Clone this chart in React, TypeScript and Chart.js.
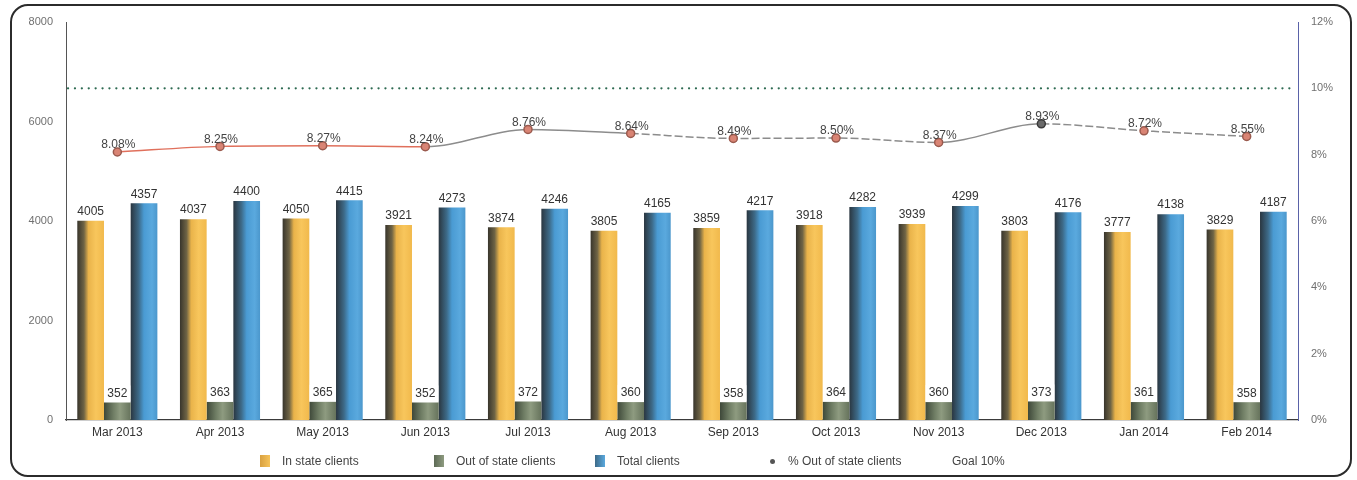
import React, { useEffect, useRef } from "react";
import { Chart, registerables } from "chart.js";

Chart.register(...registerables);

const months = ["Mar 2013", "Apr 2013", "May 2013", "Jun 2013", "Jul 2013", "Aug 2013", "Sep 2013", "Oct 2013", "Nov 2013", "Dec 2013", "Jan 2014", "Feb 2014"];
const inState = [4005, 4037, 4050, 3921, 3874, 3805, 3859, 3918, 3939, 3803, 3777, 3829];
const outState = [352, 363, 365, 352, 372, 360, 358, 364, 360, 373, 361, 358];
const totalClients = [4357, 4400, 4415, 4273, 4246, 4165, 4217, 4282, 4299, 4176, 4138, 4187];
const pctOut = [8.08, 8.25, 8.27, 8.24, 8.76, 8.64, 8.49, 8.5, 8.37, 8.93, 8.72, 8.55];
const goalPct = 10;
const leftTicks = [0, 2000, 4000, 6000, 8000];
const rightTicks = [0, 2, 4, 6, 8, 10, 12];

const FONT = "'Liberation Sans', Arial, sans-serif";
const CAT_PCT = 0.78;

const gradStops: Record<number, [number, string][]> = {
  0: [[0, "#38352c"], [0.25, "#6f6445"], [0.42, "#e9b34a"], [0.7, "#f8c65c"], [1, "#f1b94c"]],
  1: [[0, "#3e4839"], [0.35, "#6f7d64"], [0.6, "#8e9b80"], [1, "#66735c"]],
  2: [[0, "#2a3640"], [0.3, "#3d6a88"], [0.5, "#4a9bd3"], [0.8, "#5aa9de"], [1, "#4b97cc"]],
};
const solid: Record<number, string> = { 0: "#f3bf52", 1: "#7d8a70", 2: "#4a9bd3" };

function barFill(c: any) {
  const chart = c.chart;
  const ds = c.datasetIndex;
  const xs = chart.scales && chart.scales.x;
  if (c.type !== "data" || !xs || !chart.chartArea || !xs.width) return solid[ds];
  const center = xs.getPixelForValue(c.dataIndex);
  const catW = xs.width / months.length;
  const groupW = catW * CAT_PCT;
  const barW = groupW / 3;
  const left = center - groupW / 2 + ds * barW;
  const g = chart.ctx.createLinearGradient(left, 0, left + barW, 0);
  gradStops[ds].forEach(([o, col]) => g.addColorStop(o, col));
  return g;
}

const labelPlugin = {
  id: "valueLabels",
  afterDatasetsDraw(chart: any) {
    const ctx = chart.ctx;
    ctx.save();
    ctx.font = `12px ${FONT}`;
    ctx.textAlign = "center";
    ctx.textBaseline = "bottom";
    chart.data.datasets.forEach((ds: any, di: number) => {
      const meta = chart.getDatasetMeta(di);
      meta.data.forEach((el: any, i: number) => {
        const v = ds.data[i];
        if (ds.type === "line") {
          ctx.fillStyle = "#444";
          ctx.fillText(v.toFixed(2) + "%", el.x + 1, el.y - 1);
        } else {
          const txt = String(v);
          if (di === 1) {
            const w = ctx.measureText(txt).width + 6;
            ctx.fillStyle = "#ffffff";
            ctx.fillRect(el.x - w / 2, el.y - 17, w, 16);
          }
          ctx.fillStyle = "#333";
          ctx.fillText(txt, el.x, el.y - 3);
        }
      });
    });
    ctx.restore();
  },
};

const goalPlugin = {
  id: "goalLine",
  beforeDatasetsDraw(chart: any) {
    const y1 = chart.scales.y1;
    const area = chart.chartArea;
    const y = y1.getPixelForValue(goalPct);
    const ctx = chart.ctx;
    ctx.save();
    ctx.strokeStyle = "#2e6b52";
    ctx.lineWidth = 2.2;
    ctx.lineCap = "round";
    ctx.setLineDash([0.1, 6.8]);
    ctx.beginPath();
    ctx.moveTo(area.left + 2, y);
    ctx.lineTo(area.right - 2, y);
    ctx.stroke();
    ctx.restore();
  },
};

export default function App() {
  const ref = useRef<HTMLCanvasElement | null>(null);

  useEffect(() => {
    if (!ref.current) return;
    const chart = new Chart(ref.current, {
      type: "bar",
      data: {
        labels: months,
        datasets: [
          { type: "bar", label: "In state clients", data: inState, backgroundColor: barFill, yAxisID: "y", order: 2 },
          { type: "bar", label: "Out of state clients", data: outState, backgroundColor: barFill, yAxisID: "y", order: 2 },
          { type: "bar", label: "Total clients", data: totalClients, backgroundColor: barFill, yAxisID: "y", order: 2 },
          {
            type: "line",
            label: "% Out of state clients",
            data: pctOut,
            yAxisID: "y1",
            order: 1,
            borderColor: "#8c8c8c",
            borderWidth: 1.5,
            tension: 0.4,
            cubicInterpolationMode: "monotone",
            pointRadius: 4,
            pointBorderWidth: 1.5,
            pointBackgroundColor: pctOut.map((_, i) => (i === 9 ? "#6a6a6a" : "#d98474")),
            pointBorderColor: pctOut.map((_, i) => (i === 9 ? "#3a3a3a" : "#9a5a4e")),
            segment: {
              borderColor: (s: any) => (s.p0DataIndex < 3 ? "#e0705c" : "#8c8c8c"),
              borderDash: (s: any) => (s.p0DataIndex >= 5 && s.p0DataIndex !== 8 ? [8, 3] : undefined),
            },
          } as any,
        ],
      },
      options: {
        animation: false,
        responsive: false,
        layout: { padding: { left: 10, right: 10, top: 22, bottom: 35 } },
        datasets: { bar: { categoryPercentage: CAT_PCT, barPercentage: 1 } } as any,
        plugins: { legend: { display: false }, tooltip: { enabled: false } },
        scales: {
          x: {
            grid: { display: false, drawTicks: false },
            border: { color: "#3a3a3a", width: 1.2 },
            ticks: { color: "#333", font: { family: FONT, size: 12 }, padding: 5, maxRotation: 0, autoSkip: false },
            afterFit: (s: any) => { s.height = 25; },
          },
          y: {
            position: "left",
            min: 0,
            max: 8000,
            afterBuildTicks: (s: any) => { s.ticks = leftTicks.map((v) => ({ value: v })); },
            grid: { display: false, drawTicks: false },
            border: { color: "#555", width: 1 },
            ticks: { color: "#707070", font: { family: FONT, size: 11 }, padding: 13, callback: (v: any) => String(v) },
            afterFit: (s: any) => { s.width = 56; },
          },
          y1: {
            position: "right",
            min: 0,
            max: 12,
            afterBuildTicks: (s: any) => { s.ticks = rightTicks.map((v) => ({ value: v })); },
            grid: { display: false, drawTicks: false },
            border: { color: "#5a62a8", width: 1 },
            ticks: { color: "#707070", font: { family: FONT, size: 11 }, padding: 13, callback: (v: any) => v + "%" },
            afterFit: (s: any) => { s.width = 49; },
          },
        },
      },
      plugins: [goalPlugin, labelPlugin],
    });
    return () => chart.destroy();
  }, []);

  const legendItems = [
    { x: 260, label: "In state clients", kind: "sq", bg: "linear-gradient(90deg,#d8a040,#f6c35a)" },
    { x: 434, label: "Out of state clients", kind: "sq", bg: "linear-gradient(90deg,#5d6a55,#8e9b80)" },
    { x: 595, label: "Total clients", kind: "sq", bg: "linear-gradient(90deg,#3d6a88,#5aa9de)" },
    { x: 770, label: "% Out of state clients", kind: "dot", bg: "#555" },
    { x: 952, label: "Goal 10%", kind: "none", bg: "" },
  ];

  return (
    <div style={{ position: "absolute", left: 0, top: 0, width: 1357, height: 480, background: "#fff" }}>
      <div
        style={{
          position: "absolute",
          left: 10,
          top: 4,
          width: 1342,
          height: 473,
          border: "2px solid #2b2b2b",
          borderRadius: 18,
          boxSizing: "border-box",
        }}
      />
      <canvas ref={ref} width={1357} height={480} style={{ position: "absolute", left: 0, top: 0, width: 1357, height: 480 }} />
      {legendItems.map((it) => (
        <div
          key={it.label}
          style={{
            position: "absolute",
            left: it.x,
            top: 453,
            height: 16,
            display: "flex",
            alignItems: "center",
            fontFamily: FONT,
            fontSize: 12,
            color: "#444",
            whiteSpace: "nowrap",
          }}
        >
          {it.kind === "sq" && <span style={{ display: "inline-block", width: 10, height: 12, background: it.bg, marginRight: 12 }} />}
          {it.kind === "dot" && <span style={{ display: "inline-block", width: 5, height: 5, borderRadius: 3, background: it.bg, marginRight: 13 }} />}
          <span>{it.label}</span>
        </div>
      ))}
    </div>
  );
}
